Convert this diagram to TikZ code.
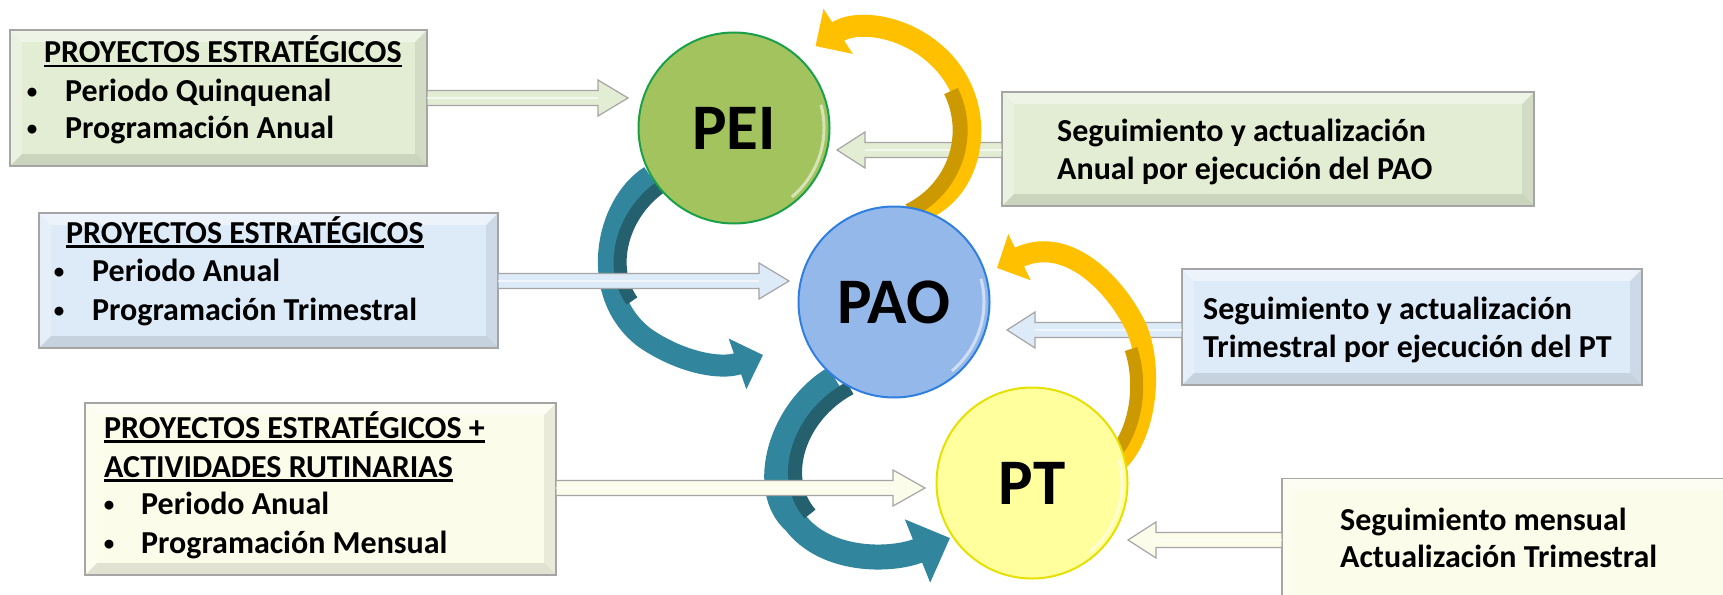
\documentclass[tikz,border=0pt]{standalone}
\usepackage{fontspec}
\setmainfont{Carlito}
\usetikzlibrary{arrows.meta,calc}
\definecolor{gbox}{HTML}{E3EDD3}
\definecolor{bbox}{HTML}{DDEAF8}
\definecolor{cbox}{HTML}{FCFCEA}
\definecolor{boxline}{HTML}{A5A5A5}
\definecolor{peifill}{HTML}{A2C35E}
\definecolor{peiedge}{HTML}{1BA04A}
\definecolor{paofill}{HTML}{95B8EA}
\definecolor{paoedge}{HTML}{2F7FE0}
\definecolor{ptfill}{HTML}{FFFF9E}
\definecolor{ptedge}{HTML}{E6E000}
\definecolor{teal}{HTML}{31859C}
\definecolor{tealdark}{HTML}{25606F}
\definecolor{gold}{HTML}{FFC000}
\definecolor{golddark}{HTML}{CC9A00}
\newcommand\ulbar[1]{\setbox0\hbox{#1}\rlap{\rule[-4.5pt]{\wd0}{2.3pt}}\box0}
\newcommand\bevel[1]{%
  \fill[white,opacity=.45] (#1.north west) -- (#1.north east) -- ($(#1.north east)+(-12,12)$) -- ($(#1.north west)+(12,12)$) -- cycle;
  \fill[white,opacity=.25] (#1.north west) -- ($(#1.north west)+(12,12)$) -- ($(#1.south west)+(12,-12)$) -- (#1.south west) -- cycle;
  \fill[black,opacity=.10] (#1.south west) -- (#1.south east) -- ($(#1.south east)+(-12,-12)$) -- ($(#1.south west)+(12,-12)$) -- cycle;
  \fill[black,opacity=.07] (#1.north east) -- (#1.south east) -- ($(#1.south east)+(-12,-12)$) -- ($(#1.north east)+(-12,12)$) -- cycle;
  \draw[boxline,line width=1.5pt] (#1.north west) rectangle (#1.south east);}
\newcommand\blockarrow[4]{%
  \draw[barrow, fill=#3] let \p1=(#1), \p2=(#2), \n1={\x2+(#4)} in
   (\x1,{\y2+7.5pt}) -- (\n1,{\y2+7.5pt}) -- (\n1,{\y2+18pt}) -- (\x2,\y2)
   -- (\n1,{\y2-18pt}) -- (\n1,{\y2-7.5pt}) -- (\x1,{\y2-7.5pt}) -- cycle;
  \draw[white,opacity=.6,line width=2pt] let \p1=(#1), \p2=(#2), \n1={\x2+(#4)} in (\x1,\y2) -- (\n1,\y2);}
\begin{document}
\begin{tikzpicture}[x=1pt,y=-1pt,
  bx/.style={rectangle, inner sep=0pt, outer sep=0pt},
  txt/.style={font=\fontsize{32}{38}\selectfont\bfseries, anchor=west, inner sep=0pt, text height=22pt, text depth=6pt},
  bul/.style={anchor=center, inner sep=0pt, font=\fontsize{21}{21}\selectfont\bfseries},
  circ/.style={circle, inner sep=0pt, minimum size=191pt, line width=2pt, font=\fontsize{65}{65}\selectfont\bfseries},
  barrow/.style={draw=boxline, line width=1.2pt},
  tealarr/.style={teal, line width=22pt},
  goldarr/.style={gold, line width=22pt}]
\clip (0,0) rectangle (1723,594);
\fill[white] (0,0) rectangle (1723,594);

% boxes
\node[bx, fill=gbox, minimum width=417pt, minimum height=136pt] (b1) at (218.5,98) {};
\node[bx, fill=bbox, minimum width=459pt, minimum height=135pt] (b2) at (268.5,280.5) {};
\node[bx, fill=cbox, minimum width=471pt, minimum height=172pt] (b3) at (320.5,489) {};
\node[bx, fill=gbox, minimum width=532pt, minimum height=114pt] (b4) at (1268,149) {};
\node[bx, fill=bbox, minimum width=460pt, minimum height=116pt] (b5) at (1412,327) {};
\node[bx, fill=cbox, minimum width=458pt, minimum height=133pt] (b6) at (1511,545) {};
\bevel{b1}\bevel{b2}\bevel{b3}\bevel{b4}\bevel{b5}\bevel{b6}

% circle positions (drawn later)
\coordinate (peic) at (734,128);
\coordinate (paoc) at (894,302);
\coordinate (ptc) at (1032,483);
\path (peic) node[circ] (pei0) {};
\path (paoc) node[circ] (pao0) {};
\path (ptc) node[circ] (pt0) {};

% teal curved arrows (behind)
\coordinate (t1e) at (763,355);
\coordinate (t2e) at (950,538);
\draw[tealarr, -{Triangle[length=27pt,width=52pt]}] (pei0.210) .. controls (605,205) and (588,295) .. (645,338) .. controls (680,362) and (720,370) .. (t1e);
\draw[tealdark, line width=13pt] (665,184) .. controls (621,212) and (608,268) .. (632,301);
\draw[tealarr, line width=25pt, -{Triangle[length=35pt,width=66pt]}] (pao0.232) .. controls (780,410) and (758,490) .. (795,522) .. controls (825,562) and (890,562) .. (t2e);
\draw[tealdark, line width=14pt] (850,388) .. controls (798,416) and (779,478) .. (810,514);

% straight arrows
\coordinate (a1t) at (628,98);
\coordinate (a2t) at (789,281);
\coordinate (a3t) at (925,488);
\coordinate (a4t) at (837,150);
\coordinate (a5t) at (1007,330);
\coordinate (a6t) at (1128,540);
\blockarrow{b1.east}{a1t}{gbox}{-30pt}
\blockarrow{b2.east}{a2t}{bbox}{-30pt}
\blockarrow{b3.east}{a3t}{cbox}{-32pt}
\blockarrow{b4.west}{a4t}{gbox}{28pt}
\blockarrow{b5.west}{a5t}{bbox}{28pt}
\blockarrow{b6.west}{a6t}{cbox}{28pt}

% gold curved arrows
\coordinate (g1e) at (815.5,46.1);
\coordinate (g2e) at (997,268);
\draw[goldarr, -{Triangle[length=27pt,width=52pt]}] (pao0.73) .. controls (969.5,191.5) and (986.7,122.3) .. (951.9,72.6) .. controls (921.0,28.5) and (860.7,16.7) .. (g1e);
\draw[golddark, line width=15pt] (909,211) .. controls (954,189) and (973,136) .. (951,91);
\draw[goldarr, line width=21pt, -{Triangle[length=25pt,width=50pt]}] ($(pt0.15)+(-8,4)$) .. controls (1150,430) and (1152,359) .. (1135,325) .. controls (1113,281) and (1065,235) .. (g2e);
\draw[golddark, line width=13pt] (1111,458) .. controls (1136,432) and (1143,385) .. (1131,349);

% circles
\node[circ, draw=peiedge, fill=peifill] (pei) at (peic) {PEI};
\node[circ, draw=paoedge, fill=paofill] (pao) at (paoc) {PAO};
\node[circ, draw=ptedge, fill=ptfill] (pt) at (ptc) {PT};
\foreach \c in {pei,pao,pt}{
  \draw[white, opacity=.55, line width=3pt] (\c.center) ++(-50:90pt) arc[start angle=-50, end angle=15, radius=90pt];
}

% texts
\node[txt] (t11) at (44,55) {\ulbar{PROYECTOS ESTRATÉGICOS}};
\node[bul] (u12) at (32,93) {\textbullet};
\node[txt] (t12) at (65,93) {Periodo Quinquenal};
\node[bul] (u13) at (32,130) {\textbullet};
\node[txt] (t13) at (65,130) {Programación Anual};

\node[txt] (t21) at (66,235) {\ulbar{PROYECTOS ESTRATÉGICOS}};
\node[bul] (u22) at (59,273) {\textbullet};
\node[txt] (t22) at (92,273) {Periodo Anual};
\node[bul] (u23) at (59,312) {\textbullet};
\node[txt] (t23) at (92,312) {Programación Trimestral};

\node[txt] (t31) at (104,430) {\ulbar{PROYECTOS ESTRATÉGICOS +}};
\node[txt] (t32) at (104,469) {\ulbar{ACTIVIDADES RUTINARIAS}};
\node[bul] (u33) at (109,506) {\textbullet};
\node[txt] (t33) at (141,506) {Periodo Anual};
\node[bul] (u34) at (109,545) {\textbullet};
\node[txt] (t34) at (141,545) {Programación Mensual};

\node[txt] (t41) at (1057,133) {Seguimiento y actualización};
\node[txt] (t42) at (1057,171) {Anual por ejecución del PAO};
\node[txt] (t51) at (1203,311) {Seguimiento y actualización};
\node[txt] (t52) at (1203,349) {Trimestral por ejecución del PT};
\node[txt] (t61) at (1340,522) {Seguimiento mensual};
\node[txt] (t62) at (1340,559) {Actualización Trimestral};
\end{tikzpicture}
\end{document}
